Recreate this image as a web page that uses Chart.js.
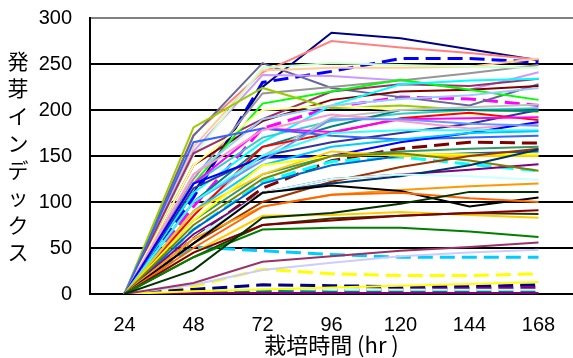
<!DOCTYPE html>
<html lang="ja">
<head>
<meta charset="utf-8">
<script src="https://cdn.jsdelivr.net/npm/chart.js@4.4.1/dist/chart.umd.min.js"></script>
<style>
  html, body { margin: 0; padding: 0; background: #fff; }
  canvas { display: block; }
</style>
</head>
<body>
<canvas id="c" width="573" height="358"></canvas>
<script>
// Cultivation time categories (hours)
const hours = ['24', '48', '72', '96', '120', '144', '168'];
const yTicks = [0, 50, 100, 150, 200, 250, 300];
const yTitleText = '発芽インデックス';
const xTitleText = '栽培時間 (hr )';

// Germination index per sample line
const lineNavy      = [0, 110, 225, 284, 278, 266, 254];
const lineSalmon    = [0, 173, 241, 275, 268, 262, 255];
const linePeach     = [0, 160, 243, 246, 246, 247, 256];
const lineBlueDash  = [0, 105, 230, 242, 256, 256, 252];
const lineGray      = [0, 125, 218, 225, 232, 240, 249];
const lineLavender  = [0, 155, 238, 237, 232, 222, 241];
const linePaleGreen = [0, 150, 246, 251, 249, 247, 246];
const linePlum      = [0, 153, 190, 220, 228, 226, 234];
const lineMaroon    = [0, 140, 188, 211, 220, 222, 226];
const lineLime      = [0, 120, 207, 220, 233, 222, 211];
const lineCyan      = [0, 110, 165, 205, 228, 232, 234];
const lineYellowGrn = [0, 181, 224, 202, 205, 200, 198];
const lineSlate     = [0, 172, 251, 224, 214, 205, 228];
const lineMagDash   = [0, 95, 180, 203, 214, 212, 205];
const lineSkyLight  = [0, 130, 190, 205, 212, 216, 224];
const lineAqua      = [0, 120, 170, 188, 196, 200, 202];
const lineTeal      = [0, 100, 160, 182, 200, 200, 199];
const lineSilver    = [0, 90, 150, 192, 200, 203, 206];
const lineRed       = [0, 85, 160, 175, 191, 197, 189];
const lineMagenta   = [0, 120, 180, 176, 190, 191, 192];
const lineBlue      = [0, 120, 148, 150, 165, 175, 187];
const lineRoyal     = [0, 165, 180, 172, 168, 170, 172];
const linePink      = [0, 130, 178, 195, 188, 180, 185];
const lineSky       = [0, 90, 140, 160, 168, 175, 177];
const lineCyan2     = [0, 100, 150, 175, 178, 178, 178];
const lineMaroonDsh = [0, 60, 115, 145, 158, 165, 164];
const lineSeaGreen  = [0, 80, 130, 150, 155, 158, 160];
const lineOcean     = [0, 70, 120, 140, 150, 153, 155];
const lineYellow    = [0, 80, 140, 150, 152, 152, 152];
const linePurple    = [0, 65, 110, 125, 130, 135, 141];
const lineOlive     = [0, 75, 125, 150, 153, 145, 134];
const lineCyanDash  = [0, 70, 122, 144, 149, 141, 134];
const lineIce       = [0, 60, 110, 125, 130, 128, 124];
const lineOrange    = [0, 60, 95, 108, 113, 117, 120];
const lineDeepBlue  = [0, 60, 110, 120, 128, 140, 157];
const lineBrown     = [0, 55, 100, 122, 138, 150, 158];
const lineForest    = [0, 26, 83, 88, 98, 111, 111];
const lineBlack     = [0, 55, 110, 118, 112, 95, 105];
const lineVermilion = [0, 50, 95, 108, 110, 104, 100];
const lineGold      = [0, 45, 85, 86, 89, 86, 83];
const lineDarkOlive = [0, 40, 75, 82, 85, 88, 87];
const lineMaroon2   = [0, 45, 75, 80, 85, 88, 91];
const lineGreen     = [0, 40, 70, 72, 72, 68, 62];
const linePlum2     = [0, 12, 35, 41, 47, 51, 56];
const linePeriwink  = [0, 10, 26, 34, 41, 45, 48];
const lineSkyDash   = [0, 51, 47, 43, 40, 40, 40];
const lineYellowDsh = [0, 8, 27, 22, 20, 20, 22];
const lineYellow2   = [0, 3, 5, 7, 9, 11, 13];
const lineNavyDash  = [0, 5, 10, 9, 8, 8, 10];
const linePurpleDsh = [0, 2, 3, 4, 5, 6, 7];
const lineIceDash   = [0, 2, 5, 5, 4, 4, 4];
const lineTealDash  = [0, 1, 3, 2, 2, 2, 2];
const linePurple2   = [0, 1, 1, 1, 1, 1, 1];
const lineCream     = [0, 140, 200, 205, 200, 195, 190];
const lineCornflwr  = [0, 100, 145, 190, 190, 185, 183];
const lineAmber     = [0, 90, 130, 155, 150, 150, 150];
const lineIndigo    = [0, 115, 150, 165, 175, 185, 200];

// Stroke styles: [values, colour, dashed]
const seriesStyles = [
  [lineForest, '#003300', false],
  [lineGreen, '#008000', false],
  [lineMaroon2, '#800000', false],
  [lineDarkOlive, '#333300', false],
  [lineGold, '#FFCC00', false],
  [lineVermilion, '#FF6600', false],
  [lineBlack, '#000000', false],
  [lineOrange, '#FF9900', false],
  [lineIce, '#CCFFFF', false],
  [lineDeepBlue, '#003366', false],
  [lineBrown, '#993300', false],
  [lineOlive, '#808000', false],
  [linePurple, '#800080', false],
  [lineYellow, '#FFFF00', false],
  [lineAmber, '#FFCC00', false],
  [lineOcean, '#0066CC', false],
  [lineSeaGreen, '#339966', false],
  [lineSky, '#00CCFF', false],
  [lineCyan2, '#33FFFF', false],
  [lineCornflwr, '#6699FF', false],
  [lineBlue, '#0000FF', false],
  [linePink, '#FF99CC', false],
  [lineRoyal, '#3366FF', false],
  [lineMagenta, '#FF00FF', false],
  [lineRed, '#FF0000', false],
  [lineSilver, '#C0C0C0', false],
  [lineTeal, '#008080', false],
  [lineAqua, '#33CCCC', false],
  [lineIndigo, '#333399', false],
  [lineSkyLight, '#99CCFF', false],
  [lineCream, '#FFFF99', false],
  [lineYellowGrn, '#99CC00', false],
  [lineCyan, '#00FFFF', false],
  [lineLime, '#00FF00', false],
  [lineMaroon, '#800000', false],
  [linePlum, '#993366', false],
  [linePaleGreen, '#CCFFCC', false],
  [lineLavender, '#CC99FF', false],
  [lineGray, '#969696', false],
  [linePeach, '#FFCC99', false],
  [lineSlate, '#666699', false],
  [lineSalmon, '#FF8080', false],
  [lineNavy, '#000080', false],
  [linePlum2, '#993366', false],
  [linePeriwink, '#CCCCFF', false],
  [lineYellow2, '#FFFF00', false],
  [linePurple2, '#800080', false],
  [lineTealDash, '#008080', true],
  [lineIceDash, '#CCFFFF', true],
  [linePurpleDsh, '#800080', true],
  [lineNavyDash, '#000080', true],
  [lineYellowDsh, '#FFFF00', true],
  [lineSkyDash, '#00CCFF', true],
  [lineCyanDash, '#00FFFF', true],
  [lineMaroonDsh, '#800000', true],
  [lineMagDash, '#FF00FF', true],
  [lineBlueDash, '#0000FF', true]
];

const datasets = seriesStyles.map(([values, color, dashed]) => ({
  data: values,
  borderColor: color,
  backgroundColor: color,
  borderWidth: dashed ? 3 : 2,
  borderDash: dashed ? [15, 7] : [],
  pointRadius: 0,
  tension: 0,
  fill: false
}));

const latin = "'Liberation Sans', Arial, sans-serif";
const cjk = "'Noto Sans CJK JP', 'Liberation Sans', sans-serif";

// Upright, stacked vertical axis title
const verticalTitle = {
  id: 'verticalTitle',
  afterDraw(chart) {
    const ctx = chart.ctx;
    ctx.save();
    ctx.fillStyle = '#000';
    ctx.font = "21px " + cjk;
    ctx.textAlign = 'center';
    ctx.textBaseline = 'middle';
    const chars = Array.from(yTitleText);
    chars.forEach((ch, i) => ctx.fillText(ch, 18, 61 + i * 27.3));
    ctx.restore();
  }
};

new Chart(document.getElementById('c'), {
  type: 'line',
  data: { labels: hours, datasets },
  plugins: [verticalTitle],
  options: {
    responsive: false,
    animation: false,
    devicePixelRatio: 1,
    layout: { padding: { top: 18, right: 0, bottom: 0, left: 0 } },
    plugins: { legend: { display: false }, tooltip: { enabled: false } },
    scales: {
      x: {
        type: 'category',
        offset: true,
        grid: { display: false, drawTicks: false },
        border: { display: true, color: '#000', width: 2 },
        ticks: { color: '#000', padding: 19, font: { family: latin, size: 20 }, maxRotation: 0 },
        title: {
          display: true,
          text: xTitleText,
          color: '#000',
          padding: { top: 0, bottom: 2 },
          font: { family: cjk, size: 22, lineHeight: 1 }
        },
        afterFit(scale) {
          scale.height = 64;
          scale.paddingLeft = 0;
          scale.paddingRight = 0;
        }
      },
      y: {
        min: 0,
        max: 300,
        afterBuildTicks(scale) { scale.ticks = yTicks.map(v => ({ value: v })); },
        grid: {
          drawTicks: false,
          color: (c) => (c.tick && c.tick.value === 300 ? '#808080' : '#000'),
          lineWidth: 2
        },
        border: { display: true, color: '#000', width: 2 },
        ticks: { color: '#000', padding: 18, font: { family: latin, size: 20 } },
        afterFit(scale) {
          scale.width = 90;
          scale.paddingTop = 0;
          scale.paddingBottom = 0;
        }
      }
    }
  }
});
</script>
</body>
</html>
